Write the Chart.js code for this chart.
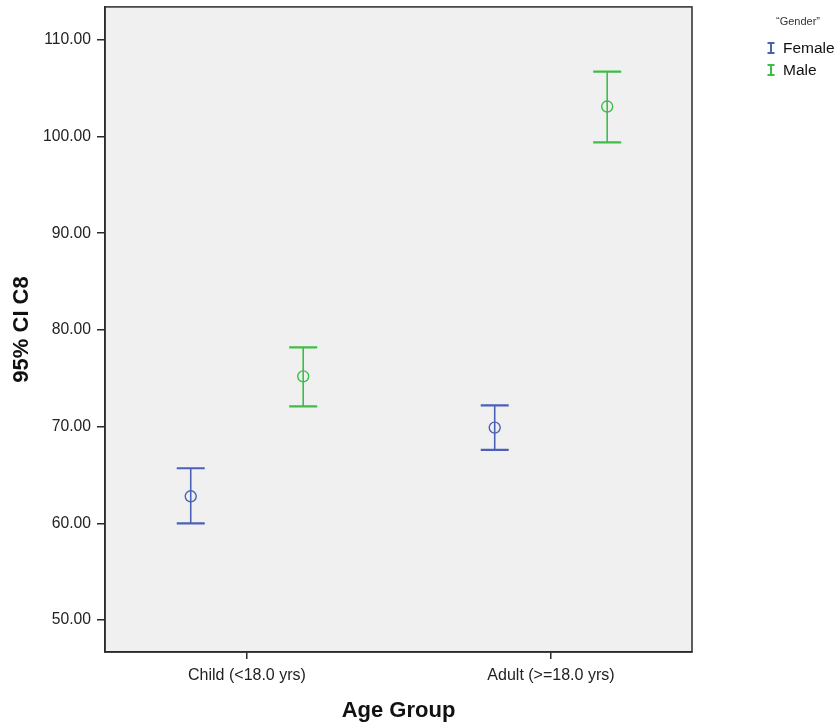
<!DOCTYPE html>
<html>
<head>
<meta charset="utf-8">
<script src="https://cdn.jsdelivr.net/npm/chart.js@4.4.1/dist/chart.umd.min.js"></script>
<style>
  body { margin: 0; background: #fff; font-family: "Liberation Sans", Arial, sans-serif; }
  #wrap { position: relative; width: 839px; height: 724px; }
  #legend { position: absolute; left: 767px; top: 15px; font-size: 15.5px; color: #111; }
  #legend .ttl { font-size: 11px; color: #333; margin-left: 9px; margin-bottom: 10px; }
  #legend .row { display: flex; align-items: center; height: 22px; }
  #legend svg { margin-right: 8px; }
</style>
</head>
<body>
<div id="wrap">
  <canvas id="chart" width="839" height="724"></canvas>
  <div id="legend"></div>
</div>
<script>
// categories and groups
const categories = ['Child (<18.0 yrs)', 'Adult (>=18.0 yrs)'];
const groups = ['Female', 'Male'];
const groupColors = ['#4b61b6', '#3dbd48'];
const groupOffset = [-0.185, 0.185];

// means and 95% CI bounds, per group, per category
const femaleMean = [62.8, 69.9];
const femaleLow = [60.0, 67.6];
const femaleHigh = [65.7, 72.2];
const maleMean = [75.2, 103.1];
const maleLow = [72.1, 99.4];
const maleHigh = [78.2, 106.7];

const yTicks = [50, 60, 70, 80, 90, 100, 110];

const series = [
    { mean: femaleMean, low: femaleLow, high: femaleHigh },
    { mean: maleMean, low: maleLow, high: maleHigh },
];

const datasets = series.map((s, g) => ({
    label: groups[g],
    data: s.mean.map((m, i) => ({ x: i + groupOffset[g], y: m, low: s.low[i], high: s.high[i] })),
    borderColor: groupColors[g],
    backgroundColor: 'rgba(0,0,0,0)',
    pointRadius: 5.5,
    pointHoverRadius: 5.5,
    pointBorderWidth: 1.4,
    showLine: false,
}));

// legend (title + error bar glyph per group)
document.getElementById('legend').innerHTML =
    '<div class="ttl">\u201CGender\u201D</div>' +
    groups.map((g, i) =>
        `<div class="row"><svg width="8" height="12"><path d="M0.5 1 H7.5 M4 1 V11 M0.5 11 H7.5" stroke="${groupColors[i]}" stroke-width="2" fill="none"/></svg>${g}</div>`
    ).join('');

// plot background + frame
const plotFrame = {
    id: 'plotFrame',
    beforeDraw(chart) {
        const { ctx, chartArea: a } = chart;
        ctx.save();
        ctx.fillStyle = '#f0f0f0';
        ctx.fillRect(a.left, a.top, a.right - a.left, a.bottom - a.top);
        ctx.restore();
    },
    afterDraw(chart) {
        const { ctx, chartArea: a } = chart;
        ctx.save();
        ctx.strokeStyle = '#2b2b2b';
        ctx.lineWidth = 1.5;
        ctx.strokeRect(a.left, a.top, a.right - a.left, a.bottom - a.top);
        ctx.restore();
    }
};

// error bars drawn from scale values
const errorBars = {
    id: 'errorBars',
    afterDatasetsDraw(chart) {
        const { ctx, scales: { x, y } } = chart;
        ctx.save();
        chart.data.datasets.forEach((ds) => {
            ctx.strokeStyle = ds.borderColor;
            ds.data.forEach((p) => {
                const px = x.getPixelForValue(p.x);
                const yl = y.getPixelForValue(p.low);
                const yh = y.getPixelForValue(p.high);
                ctx.lineWidth = 1.6;
                ctx.beginPath();
                ctx.moveTo(px, yh); ctx.lineTo(px, yl);
                ctx.stroke();
                ctx.lineWidth = 2.2;
                ctx.beginPath();
                ctx.moveTo(px - 14, yh); ctx.lineTo(px + 14, yh);
                ctx.moveTo(px - 14, yl); ctx.lineTo(px + 14, yl);
                ctx.stroke();
            });
        });
        ctx.restore();
    }
};

new Chart(document.getElementById('chart'), {
    type: 'scatter',
    data: { datasets },
    plugins: [plotFrame, errorBars],
    options: {
        responsive: false,
        animation: false,
        layout: { padding: { top: 6, right: 147, left: 0, bottom: 0 } },
        plugins: { legend: { display: false }, tooltip: { enabled: false } },
        scales: {
            x: {
                type: 'linear',
                min: -0.467,
                max: 1.464,
                afterBuildTicks: (s) => { s.ticks = categories.map((c, i) => ({ value: i })); },
                afterFit: (s) => { s.height = 72; s.paddingLeft = 0; s.paddingRight = 0; },
                ticks: {
                    callback: (v) => categories[v] ?? '',
                    color: '#222',
                    font: { family: 'Liberation Sans', size: 16 },
                    padding: 7,
                    maxRotation: 0,
                },
                grid: { drawOnChartArea: false, drawTicks: true, tickLength: 7, color: '#2b2b2b', lineWidth: 1.5 },
                border: { display: true, color: '#2b2b2b', width: 1.5 },
                title: {
                    display: true, text: 'Age Group', color: '#111',
                    font: { family: 'Liberation Sans', size: 22, weight: 'bold' },
                    padding: { top: 8, bottom: 0 },
                },
            },
            y: {
                min: 46.7,
                max: 113.4,
                afterBuildTicks: (s) => { s.ticks = yTicks.map((v) => ({ value: v })); },
                afterFit: (s) => { s.width = 105; s.paddingTop = 0; s.paddingBottom = 0; },
                ticks: {
                    callback: (v) => Number(v).toFixed(2),
                    color: '#222',
                    font: { family: 'Liberation Sans', size: 15.7 },
                    padding: 6,
                },
                grid: { drawOnChartArea: false, drawTicks: true, tickLength: 8, color: '#2b2b2b', lineWidth: 1.5 },
                border: { display: true, color: '#2b2b2b', width: 1.5 },
                title: {
                    display: true, text: '95% CI C8', color: '#111',
                    font: { family: 'Liberation Sans', size: 22, weight: 'bold' },
                    padding: { top: 9, bottom: 0 },
                },
            },
        },
    },
});
</script>
</body>
</html>
